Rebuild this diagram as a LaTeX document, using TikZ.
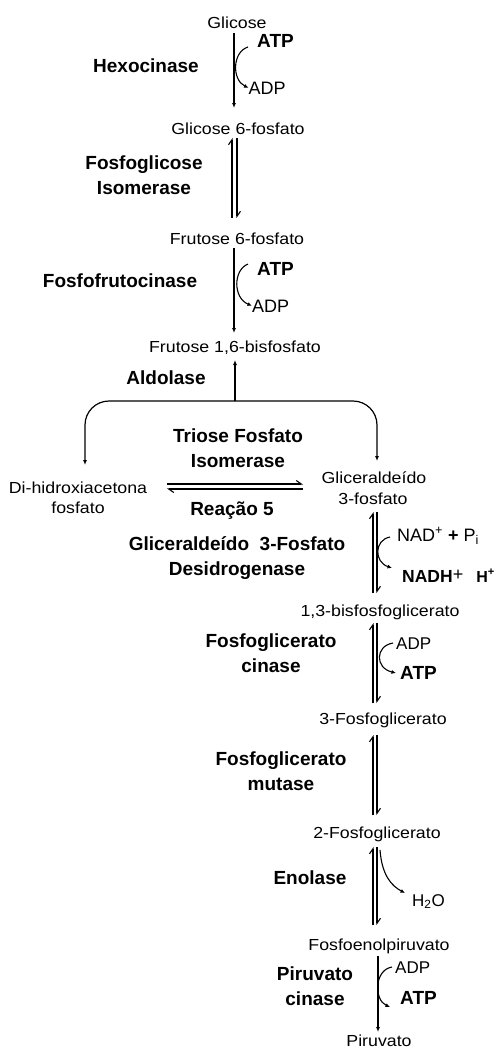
\documentclass[tikz,border=0pt]{standalone}
\usepackage{fontspec}
\setmainfont{Liberation Sans}
\newfontfamily\metaf[FakeStretch=1.11]{Liberation Sans}
\usetikzlibrary{arrows.meta}
\begin{document}
\begin{tikzpicture}[x=1pt,y=-1pt,
  meta/.style={inner sep=0pt,anchor=base,font=\metaf\fontsize{16}{19}\selectfont},
  enz/.style={inner sep=0pt,anchor=base,font=\bfseries\fontsize{19}{22}\selectfont},
  cof/.style={inner sep=0pt,anchor=base west,font=\fontsize{18}{21}\selectfont},
  cofs/.style={inner sep=0pt,anchor=base west,font=\fontsize{17}{20}\selectfont},
  cofb/.style={inner sep=0pt,anchor=base west,font=\bfseries\fontsize{19}{22}\selectfont},
  arr/.style={line width=1.2pt,-{Latex[length=5pt,width=4pt]}},
  side/.style={line width=1.1pt,-{Latex[length=4.5pt,width=4pt]}},
  harp/.style={line width=1.1pt,-{Straight Barb[left,length=5pt,width=7pt]}},
]
\useasboundingbox (0,0) rectangle (497,1050);
% metabolites
\node[meta] (glc) at (237,28) {Glicose};
\node[meta] (g6p) at (238,134) {Glicose 6-fosfato};
\node[meta] (f6p) at (237,244) {Frutose 6-fosfato};
\node[meta] (fbp) at (235,352) {Frutose 1,6-bisfosfato};
\node[meta] (dhap1) at (78,493) {Di-hidroxiacetona};
\node[meta] (dhap2) at (78,513) {fosfato};
\node[meta] (gap1) at (374,483) {Gliceralde\'ido};
\node[meta] (gap2) at (373,504) {3-fosfato};
\node[meta] (bpg) at (380,616) {1,3-bisfosfoglicerato};
\node[meta] (pg3) at (383,724) {3-Fosfoglicerato};
\node[meta] (pg2) at (377,838) {2-Fosfoglicerato};
\node[meta] (pep) at (379,950) {Fosfoenolpiruvato};
\node[meta] (pyr) at (379,1046) {Piruvato};
% enzymes
\node[enz] (hex) at (146,72) {Hexocinase};
\node[enz] (pgi1) at (144,169) {Fosfoglicose};
\node[enz] (pgi2) at (144,194) {Isomerase};
\node[enz] (pfk) at (120,287) {Fosfofrutocinase};
\node[enz] (ald) at (166,384) {Aldolase};
\node[enz] (tpi1) at (238,442) {Triose Fosfato};
\node[enz] (tpi2) at (238,467) {Isomerase};
\node[enz] (r5) at (232,515) {Rea\c{c}\~ao 5};
\node[enz] (gapdh1) at (237,550) {Gliceralde\'ido\ \ 3-Fosfato};
\node[enz] (gapdh2) at (237,575) {Desidrogenase};
\node[enz] (pgk1) at (271,647) {Fosfoglicerato};
\node[enz] (pgk2) at (271,672) {cinase};
\node[enz] (pgm1) at (281,765) {Fosfoglicerato};
\node[enz] (pgm2) at (281,790) {mutase};
\node[enz] (eno) at (310,884) {Enolase};
\node[enz] (pk1) at (315,980) {Piruvato};
\node[enz] (pk2) at (315,1005) {cinase};
% cofactors
\node[cofb] (atp1) at (257,47) {ATP};
\node[cof] (adp1) at (248.5,94) {ADP};
\node[cofb] (atp2) at (257,275) {ATP};
\node[cof] (adp2) at (252,312) {ADP};
\node[cof] (nad) at (397,541) {NAD\textsuperscript{+} \textbf{+} P\textsubscript{i}};
\node[inner sep=0pt,anchor=base west] (nadh) at (402,582) {\bfseries\fontsize{17.5}{21}\selectfont NADH\mdseries\fontsize{18}{21}\selectfont\raisebox{2pt}{+}\hspace{13pt}\bfseries\fontsize{16}{19}\selectfont H\textsuperscript{+}};
\node[cofs] (adp3) at (396,649) {ADP};
\node[cofb] (atp3) at (400,679) {ATP};
\node[cofs] (h2o) at (412,906) {H\textsubscript{2}O};
\node[cofs] (adp4) at (395,973) {ADP};
\node[cofb] (atp4) at (400,1004) {ATP};
% connector points
\coordinate (a1s) at (234,33);   \coordinate (a1e) at (234,108);
\coordinate (e1Lb) at (232,218); \coordinate (e1Lt) at (232,138);
\coordinate (e1Rt) at (237,138); \coordinate (e1Rb) at (237,218);
\coordinate (a2s) at (234,248);  \coordinate (a2e) at (234,333);
\coordinate (junc) at (235,401); \coordinate (fbpin) at (235,360);
\coordinate (dhapin) at (85,465); \coordinate (gapin) at (377,461);
\coordinate (hTL) at (167,484); \coordinate (hTR) at (303,484);
\coordinate (hBL) at (167,489); \coordinate (hBR) at (303,489);
\coordinate (e2Lt) at (373,512); \coordinate (e2Lb) at (373,593);
\coordinate (e2Rt) at (377,512); \coordinate (e2Rb) at (377,593);
\coordinate (e3Lt) at (373,623); \coordinate (e3Lb) at (373,703);
\coordinate (e3Rt) at (377,623); \coordinate (e3Rb) at (377,703);
\coordinate (e4Lt) at (373,735); \coordinate (e4Lb) at (373,815);
\coordinate (e4Rt) at (377,735); \coordinate (e4Rb) at (377,815);
\coordinate (e5Lt) at (373,847); \coordinate (e5Lb) at (373,925);
\coordinate (e5Rt) at (377,847); \coordinate (e5Rb) at (377,925);
\coordinate (a6s) at (378,956);  \coordinate (a6e) at (378,1032);
\coordinate (enoS) at (380,850);
% main path
\draw[arr] (a1s) -- (a1e);
\draw[harp] (e1Lb) -- (e1Lt);
\draw[harp] (e1Rt) -- (e1Rb);
\draw[arr] (a2s) -- (a2e);
\draw[arr] (junc) -- (fbpin);
\draw[arr,rounded corners=24pt] (junc) -| (dhapin);
\draw[arr,rounded corners=24pt] (junc) -| (gapin);
\draw[harp] (hTL) -- (hTR);
\draw[harp] (hBR) -- (hBL);
\draw[harp] (e2Lb) -- (e2Lt);
\draw[harp] (e2Rt) -- (e2Rb);
\draw[harp] (e3Lb) -- (e3Lt);
\draw[harp] (e3Rt) -- (e3Rb);
\draw[harp] (e4Lb) -- (e4Lt);
\draw[harp] (e4Rt) -- (e4Rb);
\draw[harp] (e5Lb) -- (e5Lt);
\draw[harp] (e5Rt) -- (e5Rb);
\draw[arr] (a6s) -- (a6e);
% side curves
\draw[side] ([xshift=-9pt]atp1.base west) .. controls (232,52) and (232,80) .. (adp1.west);
\draw[side] ([shift={(-9pt,11pt)}]atp2.base west) .. controls (233,270) and (233,298) .. (adp2.west);
\draw[side] ([shift={(-7pt,4pt)}]nad.base west) .. controls (374,540) and (374,562) .. ([shift={(-10pt,14pt)}]nadh.base west);
\draw[side] ([shift={(-3pt,6pt)}]adp3.base west) .. controls (375,646) and (375,668) .. ([shift={(-4pt,6pt)}]atp3.base west);
\draw[side] (enoS) .. controls (382,876) and (392,886) .. ([shift={(-7pt,13pt)}]h2o.base west);
\draw[side] ([shift={(-3pt,6pt)}]adp4.base west) .. controls (374,970) and (374,1000) .. ([shift={(-10pt,-3pt)}]atp4.base west);
\end{tikzpicture}
\end{document}
